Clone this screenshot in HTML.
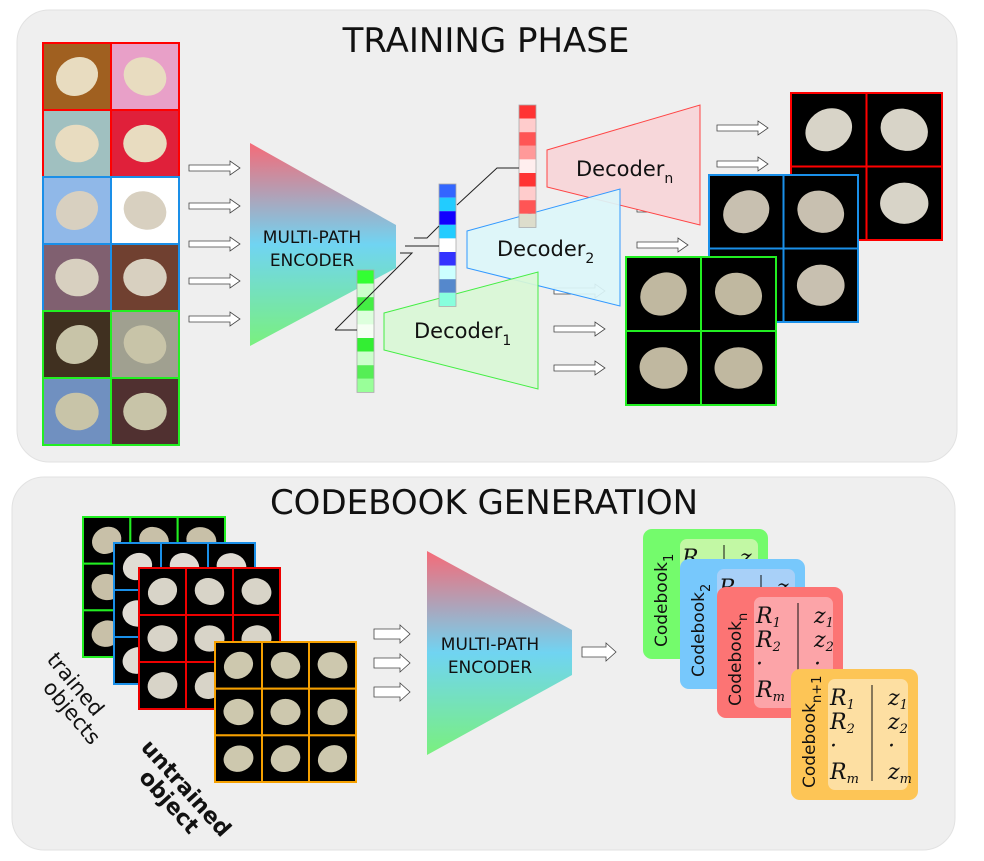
<!DOCTYPE html>
<html><head><meta charset="utf-8"><style>
body{margin:0;background:#fff;width:984px;height:861px;overflow:hidden}
svg{display:block}
text{font-family:"DejaVu Sans","Liberation Sans",sans-serif}
text.m{font-family:"DejaVu Serif","Liberation Serif",serif;font-style:italic}
</style></head><body>
<svg id="s" width="984" height="861" viewBox="0 0 984 861" xmlns="http://www.w3.org/2000/svg">
<defs>
<linearGradient id="eg" x1="0" y1="0" x2="0" y2="1">
<stop offset="0" stop-color="#f56b78"/><stop offset="0.5" stop-color="#70d4f2"/><stop offset="1" stop-color="#7af07e"/></linearGradient>
</defs>
<rect x="17" y="10" width="940" height="452" rx="32" fill="#efefef" stroke="#e2e2e2"/>
<rect x="12" y="477" width="943" height="373" rx="32" fill="#efefef" stroke="#e2e2e2"/>
<text x="486" y="52" font-size="34" text-anchor="middle" fill="#111">TRAINING PHASE</text>
<text x="484" y="514" font-size="34" text-anchor="middle" fill="#111">CODEBOOK GENERATION</text>
<g id="tiles"></g>
<polygon points="250,143 396,225 396,268 250,346" fill="url(#eg)"/>
<text x="312" y="243" font-size="17" text-anchor="middle" fill="#111">MULTI-PATH</text>
<text x="312" y="266" font-size="17" text-anchor="middle" fill="#111">ENCODER</text>
<polygon points="547,150 700,105 700,225 547,187" fill="#f7d7da" stroke="#f44" stroke-width="1"/>
<text x="576" y="176" font-size="21" fill="#111">Decoder<tspan font-size="14" dy="7">n</tspan></text>
<polygon points="467,231 620,189 620,306 467,268" fill="#dcf6fa" fill-opacity="0.92" stroke="#39f" stroke-width="1"/>
<text x="497" y="256" font-size="21" fill="#111">Decoder<tspan font-size="14" dy="7">2</tspan></text>
<polygon points="384,313 538,272 538,389 384,350" fill="#d9f7d6" fill-opacity="0.92" stroke="#4e4" stroke-width="1"/>
<text x="414" y="338" font-size="21" fill="#111">Decoder<tspan font-size="14" dy="7">1</tspan></text>
<g id="vecs"></g>
<g stroke="#222" stroke-width="1" fill="none">
<polyline points="335,330 357,330"/><polyline points="335,330 412,253 400,253"/>
<polyline points="405,246 439,246"/><polyline points="414,238 427,238 439,226"/><polyline points="457,205 497,168 519,168"/>
</g>
<polygon points="427,551 572,630 572,675 427,755" fill="url(#eg)"/>
<text x="490" y="650" font-size="17" text-anchor="middle" fill="#111">MULTI-PATH</text>
<text x="490" y="673" font-size="17" text-anchor="middle" fill="#111">ENCODER</text>
<text transform="translate(46,660) rotate(50)" font-size="21" fill="#111">trained</text>
<text transform="translate(42,688) rotate(50)" font-size="21" fill="#111">objects</text>
<text transform="translate(140,748) rotate(48)" font-size="22" font-weight="bold" fill="#111">untrained</text>
<text transform="translate(138,778) rotate(48)" font-size="22" font-weight="bold" fill="#111">object</text>
<g id="cb"></g>
</svg>
<script>
var NS="http://www.w3.org/2000/svg",T=document.getElementById('tiles');
function el(p,t,a){var e=document.createElementNS(NS,t);for(var k in a)e.setAttribute(k,a[k]);p.appendChild(e);return e;}
function grid(x,y,w,h,n,m,col,bgs,obj){var cw=w/m,ch=h/n;
for(var i=0;i<n;i++)for(var j=0;j<m;j++){var bx=x+j*cw,by=y+i*ch,bg=bgs[(i*m+j)%bgs.length];
el(T,'rect',{x:bx,y:by,width:cw,height:ch,fill:bg,stroke:col,'stroke-width':2});
el(T,'ellipse',{cx:bx+cw/2,cy:by+ch/2,rx:cw*0.32,ry:ch*0.28,fill:obj,transform:'rotate('+((i*37+j*53)%60-30)+' '+(bx+cw/2)+' '+(by+ch/2)+')'});}}
grid(43,43,136,134,2,2,'#f00',['#a06020','#e8a0c8','#a0c0c0','#e0203a'],'#e8dcc0');
grid(43,177,136,134,2,2,'#1a8fe8',['#90b8e8','#ffffff','#806070','#704030'],'#d8d0c0');
grid(43,311,136,134,2,2,'#2e2',['#403020','#a0a090','#7090c0','#503030'],'#c8c4a8');
grid(791,93,151,147,2,2,'#f00',['#000'],'#d8d4c8');
grid(709,175,149,147,2,2,'#1a8fe8',['#000'],'#c8c0b0');
grid(626,257,150,148,2,2,'#2e2',['#000'],'#c0b8a0');
grid(83,517,142,140,3,3,'#2e2',['#000'],'#c8c0a8');
grid(114,543,141,141,3,3,'#1a8fe8',['#000'],'#e0dcd4');
grid(139,568,141,141,3,3,'#e00',['#000'],'#d8d4c8');
grid(215,642,141,140,3,3,'#f5a000',['#000'],'#cdc8ae');
function arr(x1,x2,y,fat){var h=fat?5:3;
el(T,'path',{d:'M'+x1+','+(y-h)+' L'+(x2-10)+','+(y-h)+' L'+(x2-10)+','+(y-h-4)+' L'+x2+','+y+' L'+(x2-10)+','+(y+h+4)+' L'+(x2-10)+','+(y+h)+' L'+x1+','+(y+h)+' Z',fill:'#fff',stroke:'#444','stroke-width':0.8});}
[168,206,244,281,319].forEach(function(y){arr(189,240,y)});
[[717,768,128],[717,768,164],[637,688,209],[637,688,245],[554,605,291],[554,605,329],[554,605,368]].forEach(function(a){arr(a[0],a[1],a[2])});
[634,663,692].forEach(function(y){arr(374,410,y,1)});arr(582,616,652,1);
var V=document.getElementById('vecs');
function vec(x,y,cols){cols.forEach(function(c,i){el(V,'rect',{x:x,y:y+i*13.6,width:17,height:13.6,fill:c});});el(V,'rect',{x:x,y:y,width:17,height:cols.length*13.6,fill:'none',stroke:'#aaa','stroke-width':0.8});}
vec(519,105,['#f33','#fcc','#f55','#f99','#fee','#f33','#fcc','#f55','#ddc']);
vec(439,184,['#36f','#2cf','#10f','#2cf','#fff','#33f','#cff','#58c','#8fd']);
vec(357,270,['#3f3','#cfc','#4e4','#dfd','#f6fff4','#3e3','#cfc','#5e5','#9f9']);
var C=document.getElementById('cb');
function card(x,y,w,h,c,inner,sub){el(C,'rect',{x:x,y:y,width:w,height:h,rx:9,fill:c});
el(C,'rect',{x:x+37,y:y+10,width:w-47,height:h-20,rx:7,fill:inner});
var t=el(C,'text',{transform:'translate('+(x+24)+','+(y+h-12)+') rotate(-90)','font-size':17,fill:'#111'});t.innerHTML='Codebook<tspan font-size="13" dy="6">'+sub+'</tspan>';
var ix=x+39,iy=y+10;
el(C,'line',{x1:ix+42,y1:iy+6,x2:ix+42,y2:iy+102,stroke:'#111'});
var rows=[['R','1','z','1'],['R','2','z','2'],['·','','·',''],['R','m','z','m']];
var ys=[26,50,74,100];
rows.forEach(function(r,i){var a=el(C,'text',{x:ix,y:iy+ys[i],'font-size':22,'class':'m',fill:'#111'});a.innerHTML=r[0]+'<tspan font-size="13" dy="4">'+r[1]+'</tspan>';
var b=el(C,'text',{x:ix+58,y:iy+ys[i],'font-size':22,'class':'m',fill:'#111'});b.innerHTML=r[2]+'<tspan font-size="13" dy="4">'+r[3]+'</tspan>';});}
card(643,529,125,130,'#74fb6c','#c2f8a4','1');
card(680,559,125,130,'#77c8fc','#a8d0f8','2');
card(717,587,126,131,'#fc7474','#fca4a8','n');
card(791,669,127,131,'#fdc556','#fddfa2','n+1');
</script>
</body></html>
